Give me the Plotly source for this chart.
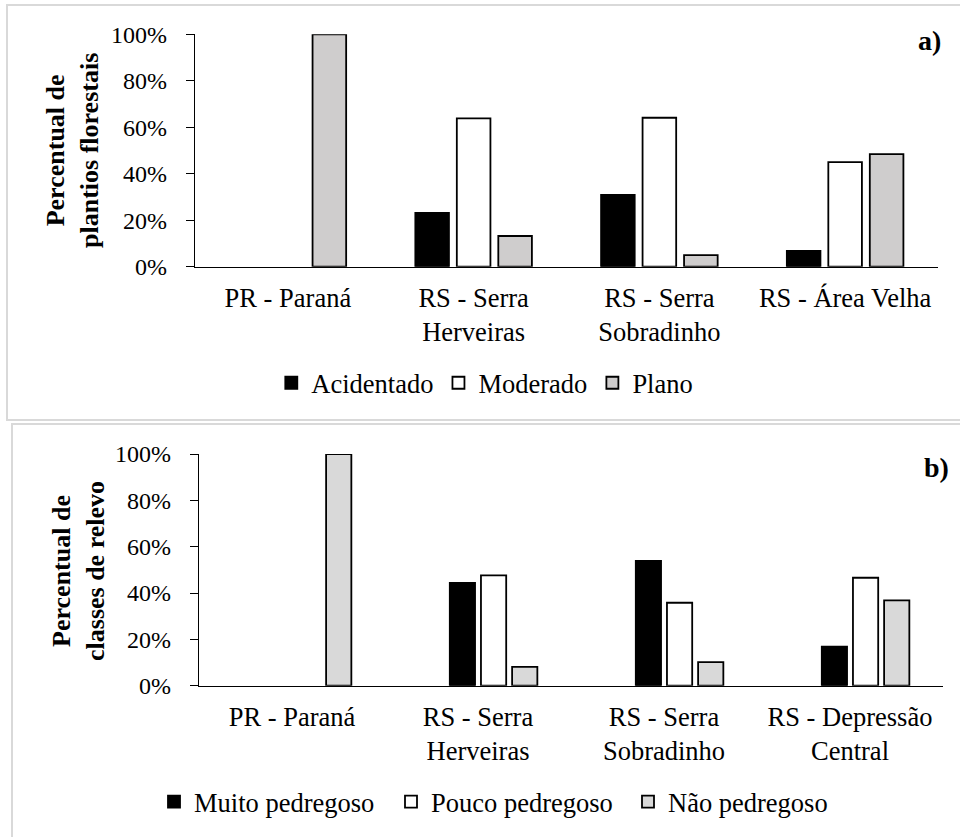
import plotly.graph_objects as go

# ---------------- data ----------------
cats_a = ["PR - Paraná", "RS - Serra<br>Herveiras", "RS - Serra<br>Sobradinho", "RS - Área Velha"]
acidentado = [None, 0.232, 0.309, 0.068]
moderado = [None, 0.638, 0.641, 0.450]
plano = [1.00, 0.132, 0.050, 0.484]

cats_b = ["PR - Paraná", "RS - Serra<br>Herveiras", "RS - Serra<br>Sobradinho", "RS - Depressão<br>Central"]
vazio = [None, None, None, None]
muito = [None, 0.444, 0.539, 0.168]
pouco = [None, 0.476, 0.358, 0.466]
nao = [1.00, 0.081, 0.102, 0.368]

yticks = [0, 0.2, 0.4, 0.6, 0.8, 1.0]
ytick_text = ["0%", "20%", "40%", "60%", "80%", "100%"]

FONT = "Liberation Serif, serif"
FS_TICK = 24
FS_CAT = 26.5
FS_LEG = 26.5
FS_TITLE = 26
FS_PANEL = 28
W, H = 960, 837

fig = go.Figure()

def bar(x, y, name, fill, xa, ya, leg, show=True):
    return go.Bar(x=x, y=y, name=name, xaxis=xa, yaxis=ya, legend=leg,
                  showlegend=show,
                  marker=dict(color=fill, line=dict(color="black", width=1.8)))

fig.add_trace(bar(cats_a, acidentado, "Acidentado", "black", "x", "y", "legend"))
fig.add_trace(bar(cats_a, moderado, "Moderado", "white", "x", "y", "legend"))
fig.add_trace(bar(cats_a, plano, "Plano", "#cfcdcd", "x", "y", "legend"))

fig.add_trace(bar(cats_b, vazio, "", "white", "x2", "y2", "legend2", show=False))
fig.add_trace(bar(cats_b, muito, "Muito pedregoso", "black", "x2", "y2", "legend2"))
fig.add_trace(bar(cats_b, pouco, "Pouco pedregoso", "white", "x2", "y2", "legend2"))
fig.add_trace(bar(cats_b, nao, "Não pedregoso", "#d9d9d9", "x2", "y2", "legend2"))

xax = dict(showline=True, linecolor="black", linewidth=1.3, ticks="", showgrid=False,
           ticklabelstandoff=7, automargin=False,
           tickfont=dict(family=FONT, size=FS_CAT, color="black"), fixedrange=True)
yax = dict(showline=True, linecolor="black", linewidth=1.3, ticks="outside", ticklen=8,
           tickcolor="black", tickwidth=1.3, showgrid=False, range=[0, 1.0],
           tickvals=yticks, ticktext=ytick_text, zeroline=False,
           ticklabelstandoff=14, automargin=False,
           tickfont=dict(family=FONT, size=FS_TICK, color="black"), fixedrange=True)

fig.update_layout(
    width=W, height=H,
    margin=dict(l=0, r=0, t=0, b=0, autoexpand=False),
    paper_bgcolor="white", plot_bgcolor="white",
    barmode="group",
    font=dict(family=FONT, size=FS_TICK, color="black"),
    xaxis=dict(xax, domain=[195 / W, 938 / W], anchor="y"),
    yaxis=dict(yax, domain=[1 - 266.7 / H, 1 - 34.3 / H], anchor="x"),
    xaxis2=dict(xax, domain=[199 / W, 943 / W], anchor="y2"),
    yaxis2=dict(yax, domain=[1 - 685.7 / H, 1 - 454 / H], anchor="x2"),
    bargap=0.33, bargroupgap=0.19,
    legend=dict(orientation="h", x=0.505, xanchor="center", y=1 - 383 / H, yanchor="middle",
                font=dict(family=FONT, size=FS_LEG, color="black"), bgcolor="rgba(0,0,0,0)",
                itemclick=False, itemdoubleclick=False),
    legend2=dict(orientation="h", x=154 / W, xanchor="left", y=1 - 802 / H, yanchor="middle",
                 entrywidth=192, entrywidthmode="pixels",
                 font=dict(family=FONT, size=FS_LEG, color="black"), bgcolor="rgba(0,0,0,0)",
                 itemclick=False, itemdoubleclick=False),
)

# panel borders
fig.add_shape(type="rect", xref="paper", yref="paper",
              x0=7 / W, x1=1.01, y0=1 - 420 / H, y1=1 - 5 / H,
              line=dict(color="#d9d9d9", width=2), fillcolor="rgba(0,0,0,0)", layer="below")
fig.add_shape(type="rect", xref="paper", yref="paper",
              x0=12 / W, x1=1.01, y0=-0.01, y1=1 - 424 / H,
              line=dict(color="#d9d9d9", width=2), fillcolor="rgba(0,0,0,0)", layer="below")

# y titles and panel labels
fig.add_annotation(xref="paper", yref="paper", x=73 / W, y=1 - 151 / H,
                   xanchor="center", yanchor="middle",
                   text="<b>Percentual de<br>plantios florestais</b>", textangle=-90,
                   showarrow=False, font=dict(family=FONT, size=FS_TITLE, color="black"))
fig.add_annotation(xref="paper", yref="paper", x=78 / W, y=1 - 571 / H,
                   xanchor="center", yanchor="middle",
                   text="<b>Percentual de<br>classes de relevo</b>", textangle=-90,
                   showarrow=False, font=dict(family=FONT, size=FS_TITLE, color="black"))
fig.add_annotation(xref="paper", yref="paper", x=943 / W, y=1 - 40 / H,
                   xanchor="right", yanchor="middle",
                   text="<b>a)</b>", showarrow=False, font=dict(family=FONT, size=FS_PANEL, color="black"))
fig.add_annotation(xref="paper", yref="paper", x=951 / W, y=1 - 467 / H,
                   xanchor="right", yanchor="middle",
                   text="<b>b)</b>", showarrow=False, font=dict(family=FONT, size=FS_PANEL, color="black"))

fig.write_html("out.html")
